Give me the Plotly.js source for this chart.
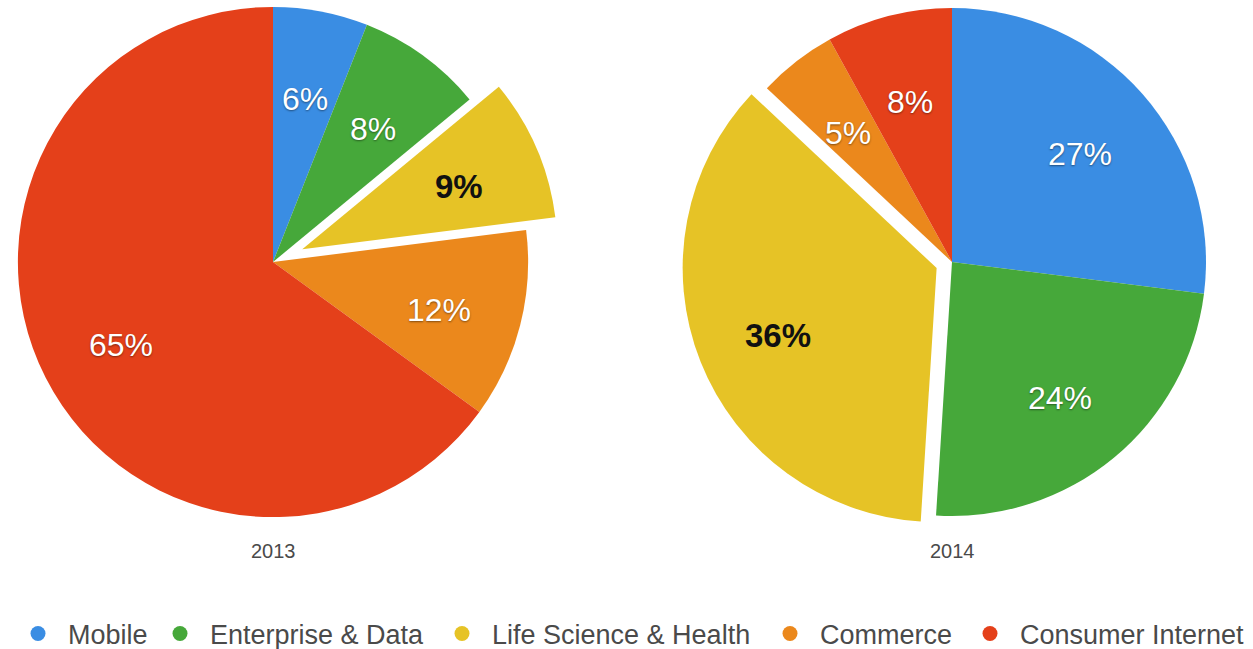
<!DOCTYPE html>
<html>
<head>
<meta charset="utf-8">
<script src="https://cdn.plot.ly/plotly-3.0.1.min.js"></script>
<style>
  html, body { margin: 0; padding: 0; background: #ffffff; overflow: hidden; }
  #wrap { position: relative; width: 1253px; height: 649px; overflow: hidden; }
  /* the plot area is a little larger than the page so the pies can sit close to the edges */
  #chart { position: absolute; left: -40px; top: -40px; width: 1333px; height: 729px; }
</style>
</head>
<body>
<div id="wrap"><div id="chart"></div></div>
<script>
// Sectors and their colours
const sectors = ['Mobile', 'Enterprise & Data', 'Life Science & Health', 'Commerce', 'Consumer Internet'];
const sectorColors = ['#3a8de3', '#46a83a', '#e6c326', '#eb881c', '#e4401a'];

// Share of deals by sector (%)
const share2013 = [6, 8, 9, 12, 65];
const share2014 = [27, 24, 36, 5, 8];

// Pulled-out sector in each year
const pull2013 = [0, 0, 0.125, 0, 0];
const pull2014 = [0, 0, 0.065, 0, 0];

const years = ['2013', '2014'];

// Page geometry (the plot div is offset by PAD on every side)
const W = 1333, H = 729, PAD = 40;
const FONT = 'Liberation Sans, Arial, Helvetica, sans-serif';

const labelColors = ['#ffffff', '#ffffff', '#111111', '#ffffff', '#ffffff'];
const labelWeights = [400, 400, 700, 400, 400];
const labelShadow = '0px 1px 2px rgba(0,0,0,0.45)';

// Pie boxes in page pixels: [left, top, size]
const boxes = [
  { left: -14, top: -25, size: 574 },
  { left: 681.5, top: -8.5, size: 541 }
];

function domainOf(b) {
  return {
    x: [(b.left + PAD) / W, (b.left + PAD + b.size) / W],
    y: [1 - (b.top + PAD + b.size) / H, 1 - (b.top + PAD) / H]
  };
}

function pieTrace(values, pull, box) {
  return {
    type: 'pie',
    labels: sectors,
    values: values,
    pull: pull,
    sort: false,
    direction: 'clockwise',
    rotation: 0,
    domain: domainOf(box),
    showlegend: false,
    marker: { colors: sectorColors, line: { width: 0 } },
    textinfo: 'none',
    hoverinfo: 'label+percent'
  };
}

// Percent labels placed along each slice's middle angle, about two thirds out
function sliceLabels(values, pull, box) {
  const total = values.reduce(function (a, b) { return a + b; }, 0);
  const maxPull = Math.max.apply(null, pull);
  const r = box.size / (2 + 2 * maxPull);
  const cx = box.left + PAD + box.size / 2;
  const cy = box.top + PAD + box.size / 2;
  let cum = 0;
  return values.map(function (v, i) {
    const mid = (cum + v / 2) / total * 2 * Math.PI;
    cum += v;
    const dist = r * (0.67 + pull[i]);
    const px = cx + dist * Math.sin(mid);
    const py = cy - dist * Math.cos(mid);
    const bold = labelWeights[i] > 400;
    return {
      text: Math.round(v / total * 100) + '%',
      x: px / W, y: 1 - py / H,
      yshift: -5,
      xref: 'paper', yref: 'paper', showarrow: false,
      xanchor: 'center', yanchor: 'middle',
      font: {
        family: FONT, size: bold ? 33 : 32,
        color: labelColors[i], weight: labelWeights[i],
        shadow: bold ? 'none' : labelShadow
      }
    };
  });
}

const traces = [
  pieTrace(share2013, pull2013, boxes[0]),
  pieTrace(share2014, pull2014, boxes[1])
];

// Legend entries drawn as round markers, one legend box per sector
const legendTextStart = [68, 210, 492, 820, 1020];
const legends = {};
sectors.forEach(function (name, i) {
  const key = i === 0 ? 'legend' : 'legend' + (i + 1);
  traces.push({
    type: 'scatter',
    mode: 'markers',
    x: [null],
    y: [null],
    name: name,
    legend: key,
    marker: { color: sectorColors[i], size: 15, symbol: 'circle' },
    hoverinfo: 'skip',
    showlegend: true
  });
  legends[key] = {
    orientation: 'h',
    x: (legendTextStart[i] - 60 + PAD) / W,
    xanchor: 'left',
    y: 1 - (634 + PAD) / H,
    yanchor: 'middle',
    font: { family: FONT, size: 27, color: '#4a4a4a' },
    itemwidth: 50,
    bgcolor: 'rgba(0,0,0,0)'
  };
});

const annotations = sliceLabels(share2013, pull2013, boxes[0])
  .concat(sliceLabels(share2014, pull2014, boxes[1]))
  .concat(years.map(function (yr, i) {
    const b = boxes[i];
    return {
      text: yr,
      x: (b.left + PAD + b.size / 2) / W, y: 1 - (551 + PAD) / H,
      xref: 'paper', yref: 'paper', showarrow: false,
      xanchor: 'center', yanchor: 'middle',
      font: { family: FONT, size: 20, color: '#4a4a4a' }
    };
  }));

const layout = Object.assign({
  width: W,
  height: H,
  margin: { l: 0, r: 0, t: 0, b: 0 },
  paper_bgcolor: '#ffffff',
  plot_bgcolor: 'rgba(0,0,0,0)',
  xaxis: { visible: false },
  yaxis: { visible: false },
  showlegend: true,
  annotations: annotations
}, legends);

Plotly.newPlot('chart', traces, layout, { displayModeBar: false, staticPlot: true });
</script>
</body>
</html>
